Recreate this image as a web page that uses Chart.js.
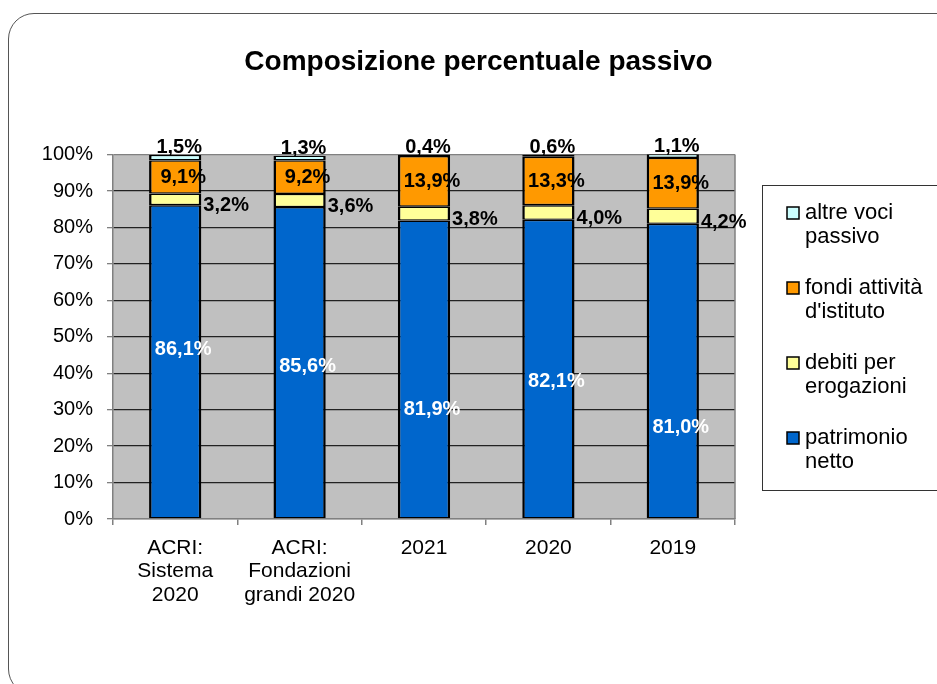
<!DOCTYPE html>
<html>
<head>
<meta charset="utf-8">
<script src="https://cdn.jsdelivr.net/npm/chart.js@4.4.0/dist/chart.umd.min.js"></script>
<style>
html, body { margin: 0; padding: 0; background: #fff; overflow: hidden; }
#frame { position: absolute; left: 8px; top: 13px; width: 1100px; height: 680px; border: 1.5px solid #555; border-radius: 26px; }
#wrap { position: absolute; left: 0; top: 0; width: 937px; height: 684px; }
</style>
</head>
<body>
<div id="frame"></div>
<div id="wrap"><canvas id="chart"></canvas></div>
<script>
// Chart data
const categories = [['ACRI:', 'Sistema', '2020'], ['ACRI:', 'Fondazioni', 'grandi 2020'], '2021', '2020', '2019'];
const patrimonioNetto = [86.1, 85.6, 81.9, 82.1, 81.0];
const debitiErogazioni = [3.2, 3.6, 3.8, 4.0, 4.2];
const fondiIstituto = [9.1, 9.2, 13.9, 13.3, 13.9];
const altreVoci = [1.5, 1.3, 0.4, 0.6, 1.1];
const seriesNames = [['patrimonio', 'netto'], ['debiti per', 'erogazioni'], ['fondi attività', "d'istituto"], ['altre voci', 'passivo']];
const yTickValues = [0, 10, 20, 30, 40, 50, 60, 70, 80, 90, 100];

const FONT = '"Liberation Sans", Arial, sans-serif';
Chart.defaults.font.family = FONT;
Chart.defaults.color = '#000';

// Gray plot area with gray frame
const plotBackground = {
    id: 'plotBackground',
    beforeDraw(chart) {
        const { ctx, chartArea: a } = chart;
        ctx.save();
        ctx.fillStyle = '#C0C0C0';
        ctx.fillRect(a.left, a.top, a.right - a.left, a.bottom - a.top);
        ctx.restore();
    },
    beforeDatasetsDraw(chart) {
        const { ctx, chartArea: a } = chart;
        ctx.save();
        ctx.strokeStyle = '#808080';
        ctx.lineWidth = 1.5;
        ctx.beginPath();
        ctx.moveTo(a.right, a.top);
        ctx.lineTo(a.right, a.bottom);
        ctx.stroke();
        ctx.restore();
    }
};

// Value labels, placed like the original Excel chart
const valueLabels = {
    id: 'valueLabels',
    afterDatasetsDraw(chart) {
        const ctx = chart.ctx;
        ctx.save();
        ctx.font = 'bold 20px ' + FONT;
        chart.data.datasets.forEach((ds, di) => {
            chart.getDatasetMeta(di).data.forEach((bar, i) => {
                const text = ds.data[i].toFixed(1).replace('.', ',') + '%';
                const top = Math.min(bar.y, bar.base);
                const bottom = Math.max(bar.y, bar.base);
                const mid = (top + bottom) / 2;
                ctx.fillStyle = ds.labelColor;
                if (ds.labelPos === 'right') {
                    ctx.textAlign = 'left';
                    ctx.textBaseline = 'middle';
                    ctx.fillText(text, bar.x + bar.width / 2 + 2, mid + 6);
                } else if (ds.labelPos === 'above') {
                    ctx.textAlign = 'center';
                    ctx.textBaseline = 'alphabetic';
                    ctx.fillText(text, bar.x + 4, top - 2);
                } else {
                    const nudge = (ds.labelNudge || [])[i] || 0;
                    ctx.textAlign = 'center';
                    ctx.textBaseline = 'middle';
                    ctx.fillText(text, bar.x + 8, mid + nudge);
                }
            });
        });
        ctx.restore();
    }
};

// Boxed legend on the right, top series first, two lines per entry
const sideLegend = {
    id: 'sideLegend',
    afterDraw(chart) {
        const ctx = chart.ctx;
        ctx.save();
        ctx.strokeStyle = '#333';
        ctx.lineWidth = 1;
        ctx.strokeRect(762.5, 185.5, 200, 305);
        ctx.font = '22px ' + FONT;
        ctx.textAlign = 'left';
        ctx.textBaseline = 'middle';
        const items = chart.data.datasets.map((ds, i) => ({ ds, lines: seriesNames[i] })).reverse();
        items.forEach((item, k) => {
            const y = 213 + k * 75;
            ctx.fillStyle = item.ds.backgroundColor;
            ctx.fillRect(787, y - 6, 12, 12);
            ctx.strokeStyle = '#000';
            ctx.lineWidth = 1.5;
            ctx.strokeRect(787, y - 6, 12, 12);
            ctx.fillStyle = '#000';
            item.lines.forEach((line, j) => ctx.fillText(line, 805, y + j * 24));
        });
        ctx.restore();
    }
};

function barSeries(label, data, color, labelPos, labelColor, extra) {
    return Object.assign({
        label: label,
        data: data,
        backgroundColor: color,
        borderColor: '#000',
        borderWidth: { left: 2.5, right: 2.5, top: 1.4, bottom: 1.4 },
        borderSkipped: false,
        categoryPercentage: 1,
        barPercentage: 0.42,
        labelPos: labelPos,
        labelColor: labelColor
    }, extra || {});
}

new Chart(document.getElementById('chart'), {
    type: 'bar',
    data: {
        labels: categories,
        datasets: [
            barSeries(seriesNames[0].join(' '), patrimonioNetto, '#0066CC', 'center', '#fff', { labelNudge: [-12, 4, 40, 12, 56] }),
            barSeries(seriesNames[1].join(' '), debitiErogazioni, '#FFFF99', 'right', '#000'),
            barSeries(seriesNames[2].join(' '), fondiIstituto, '#FF9900', 'center', '#000'),
            barSeries(seriesNames[3].join(' '), altreVoci, '#CCFFFF', 'above', '#000')
        ]
    },
    options: {
        responsive: true,
        maintainAspectRatio: false,
        animation: false,
        layout: { padding: { left: 20, right: 0, top: 0, bottom: 0 } },
        plugins: {
            legend: { display: false },
            tooltip: { enabled: false },
            title: {
                display: true,
                text: 'Composizione percentuale passivo',
                font: { size: 28, weight: 'bold' },
                color: '#000',
                padding: { top: 45, bottom: 76 }
            }
        },
        scales: {
            x: {
                stacked: true,
                afterFit: scale => { scale.height = 165; },
                grid: { offset: true, drawOnChartArea: false, drawTicks: true, tickLength: 6, tickColor: '#808080', lineWidth: 1.5 },
                border: { color: '#808080', width: 1.5 },
                ticks: { font: { size: 21, lineHeight: 1.1 }, padding: 12, maxRotation: 0, autoSkip: false }
            },
            y: {
                stacked: true,
                min: 0,
                max: 100,
                afterFit: scale => { scale.width = 93; },
                afterBuildTicks: scale => { scale.ticks = yTickValues.map(v => ({ value: v })); },
                grid: {
                    color: ctx => (ctx.tick && (ctx.tick.value === 100 || ctx.tick.value === 0)) ? '#808080' : '#222',
                    lineWidth: 1.3,
                    tickLength: 6,
                    tickColor: '#808080'
                },
                border: { color: '#808080', width: 1.5 },
                ticks: { font: { size: 20 }, padding: 14, callback: v => v + '%' }
            },
            // empty column on the right that leaves room for the legend box
            legendSpace: {
                position: 'right',
                min: 0,
                max: 100,
                afterFit: scale => { scale.width = 202; },
                grid: { display: false },
                border: { display: false },
                ticks: { display: false }
            }
        }
    },
    plugins: [plotBackground, valueLabels, sideLegend]
});
</script>
</body>
</html>
